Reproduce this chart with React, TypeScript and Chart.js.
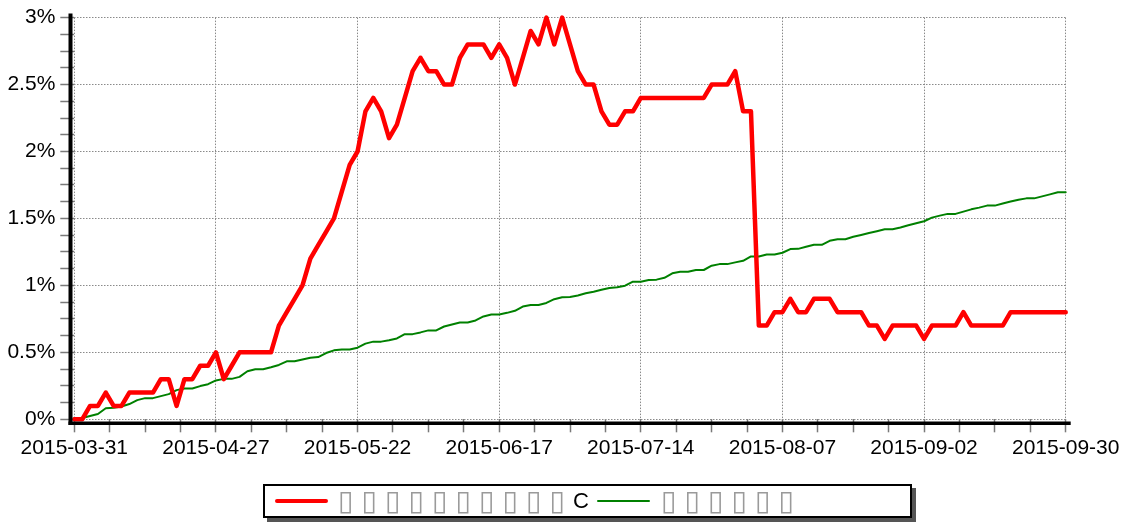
import React, { useEffect, useRef } from 'react';
import { Chart, registerables } from 'chart.js';

Chart.register(...registerables);

// Trading days, 2015-03-31 .. 2015-09-30
const dates: string[] = [
  '2015-03-31',
  '2015-04-01', '2015-04-02', '2015-04-03', '2015-04-07', '2015-04-08', '2015-04-09', '2015-04-10',
  '2015-04-13', '2015-04-14', '2015-04-15', '2015-04-16', '2015-04-17', '2015-04-20', '2015-04-21',
  '2015-04-22', '2015-04-23', '2015-04-24', '2015-04-27', '2015-04-28', '2015-04-29', '2015-04-30',
  '2015-05-04', '2015-05-05', '2015-05-06', '2015-05-07', '2015-05-08', '2015-05-11', '2015-05-12',
  '2015-05-13', '2015-05-14', '2015-05-15', '2015-05-18', '2015-05-19', '2015-05-20', '2015-05-21',
  '2015-05-22', '2015-05-25', '2015-05-26', '2015-05-27', '2015-05-28', '2015-05-29',
  '2015-06-01', '2015-06-02', '2015-06-03', '2015-06-04', '2015-06-05', '2015-06-08', '2015-06-09',
  '2015-06-10', '2015-06-11', '2015-06-12', '2015-06-15', '2015-06-16', '2015-06-17', '2015-06-18',
  '2015-06-19', '2015-06-23', '2015-06-24', '2015-06-25', '2015-06-26', '2015-06-29', '2015-06-30',
  '2015-07-01', '2015-07-02', '2015-07-03', '2015-07-06', '2015-07-07', '2015-07-08', '2015-07-09',
  '2015-07-10', '2015-07-13', '2015-07-14', '2015-07-15', '2015-07-16', '2015-07-17', '2015-07-20',
  '2015-07-21', '2015-07-22', '2015-07-23', '2015-07-24', '2015-07-27', '2015-07-28', '2015-07-29',
  '2015-07-30', '2015-07-31',
  '2015-08-03', '2015-08-04', '2015-08-05', '2015-08-06', '2015-08-07', '2015-08-10', '2015-08-11',
  '2015-08-12', '2015-08-13', '2015-08-14', '2015-08-17', '2015-08-18', '2015-08-19', '2015-08-20',
  '2015-08-21', '2015-08-24', '2015-08-25', '2015-08-26', '2015-08-27', '2015-08-28', '2015-08-31',
  '2015-09-01', '2015-09-02', '2015-09-07', '2015-09-08', '2015-09-09', '2015-09-10', '2015-09-11',
  '2015-09-14', '2015-09-15', '2015-09-16', '2015-09-17', '2015-09-18', '2015-09-21', '2015-09-22',
  '2015-09-23', '2015-09-24', '2015-09-25', '2015-09-28', '2015-09-29', '2015-09-30',
];

// Fund (class C) cumulative return, %
const fundReturn: number[] = [
  0, 0, 0.1, 0.1, 0.2, 0.1, 0.1, 0.2, 0.2, 0.2,
  0.2, 0.3, 0.3, 0.1, 0.3, 0.3, 0.4, 0.4, 0.5, 0.3,
  0.4, 0.5, 0.5, 0.5, 0.5, 0.5, 0.7, 0.8, 0.9, 1.0,
  1.2, 1.3, 1.4, 1.5, 1.7, 1.9, 2.0, 2.3, 2.4, 2.3,
  2.1, 2.2, 2.4, 2.6, 2.7, 2.6, 2.6, 2.5, 2.5, 2.7,
  2.8, 2.8, 2.8, 2.7, 2.8, 2.7, 2.5, 2.7, 2.9, 2.8,
  3.0, 2.8, 3.0, 2.8, 2.6, 2.5, 2.5, 2.3, 2.2, 2.2,
  2.3, 2.3, 2.4, 2.4, 2.4, 2.4, 2.4, 2.4, 2.4, 2.4,
  2.4, 2.5, 2.5, 2.5, 2.6, 2.3, 2.3, 0.7, 0.7, 0.8,
  0.8, 0.9, 0.8, 0.8, 0.9, 0.9, 0.9, 0.8, 0.8, 0.8,
  0.8, 0.7, 0.7, 0.6, 0.7, 0.7, 0.7, 0.7, 0.6, 0.7,
  0.7, 0.7, 0.7, 0.8, 0.7, 0.7, 0.7, 0.7, 0.7, 0.8,
  0.8, 0.8, 0.8, 0.8, 0.8, 0.8, 0.8,
];

// Benchmark cumulative return, %
const benchmarkReturn: number[] = [
  0.01, 0.01, 0.025, 0.04, 0.083, 0.086, 0.096, 0.114, 0.143, 0.158,
  0.158, 0.173, 0.188, 0.218, 0.23, 0.23, 0.248, 0.262, 0.29, 0.302,
  0.302, 0.317, 0.359, 0.374, 0.374, 0.389, 0.406, 0.433, 0.433, 0.446,
  0.46, 0.465, 0.495, 0.515, 0.522, 0.522, 0.535, 0.565, 0.58, 0.58,
  0.59, 0.604, 0.636, 0.636, 0.649, 0.664, 0.664, 0.693, 0.708, 0.723,
  0.723, 0.738, 0.768, 0.783, 0.783, 0.795, 0.81, 0.842, 0.854, 0.854,
  0.869, 0.897, 0.911, 0.914, 0.925, 0.941, 0.953, 0.968, 0.981, 0.986,
  0.998, 1.028, 1.028, 1.04, 1.043, 1.057, 1.09, 1.102, 1.102, 1.115,
  1.115, 1.147, 1.159, 1.159, 1.172, 1.184, 1.216, 1.216, 1.231, 1.231,
  1.244, 1.271, 1.273, 1.288, 1.303, 1.303, 1.333, 1.345, 1.345, 1.363,
  1.377, 1.392, 1.405, 1.419, 1.419, 1.432, 1.449, 1.464, 1.479, 1.506,
  1.521, 1.534, 1.534, 1.551, 1.568, 1.581, 1.596, 1.596, 1.611, 1.626,
  1.64, 1.65, 1.65, 1.665, 1.68, 1.695, 1.695,
];

// Legend labels as they appear (missing-glyph boxes)
const seriesLabels: string[] = ['▯▯▯▯▯▯▯▯▯▯C', '▯▯▯▯▯▯'];
const seriesColors: string[] = ['#ff0000', '#008000'];
const seriesWidths: number[] = [4.5, 2];

const xLabelEvery = 18;
const xMinorStep = 4.5;
const yMax = 3;
const yLabelEvery = 0.5;
const yMinorStep = 0.125;

const W = 1125;
const H = 523;
const PLOT_LEFT = 74.3;
const PLOT_RIGHT = 1065.7;
const PLOT_TOP = 15.7;
const PLOT_BOTTOM = 419.3;

const FONT = '"Liberation Sans", Arial, sans-serif';

const isMult = (v: number, m: number) => Math.abs(v / m - Math.round(v / m)) < 1e-6;

const axisLinesPlugin = {
  id: 'axisLines',
  afterDatasetsDraw(chart: any) {
    const { ctx, chartArea } = chart;
    ctx.save();
    ctx.strokeStyle = '#000';
    ctx.lineCap = 'butt';
    ctx.lineWidth = 4;
    ctx.beginPath();
    ctx.moveTo(chartArea.left - 3.8, chartArea.top - 4);
    ctx.lineTo(chartArea.left - 3.8, chartArea.bottom + 5.7);
    ctx.stroke();
    ctx.lineWidth = 3.6;
    ctx.beginPath();
    ctx.moveTo(chartArea.left - 5.8, chartArea.bottom + 4);
    ctx.lineTo(chartArea.right + 5, chartArea.bottom + 4);
    ctx.stroke();
    ctx.restore();
  },
};

function Legend() {
  return (
    <div
      style={{
        position: 'absolute',
        left: 263,
        top: 484,
        width: 649,
        height: 34,
        boxSizing: 'border-box',
        border: '2px solid #000',
        boxShadow: '4px 4px 0 #555',
        background: '#fff',
        display: 'flex',
        alignItems: 'center',
        fontFamily: FONT,
        fontSize: 22,
        whiteSpace: 'nowrap',
      }}
    >
      {seriesLabels.map((label, si) => (
        <React.Fragment key={si}>
          <span
            style={{
              display: 'inline-block',
              marginLeft: si === 0 ? 10 : 8,
              width: 53,
              height: seriesWidths[si],
              borderRadius: 2,
              background: seriesColors[si],
            }}
          />
          <span style={{ marginLeft: si === 0 ? 10 : 11, display: 'inline-flex', alignItems: 'center' }}>
            {Array.from(label).map((ch, ci) =>
              ch === '▯' ? (
                <span
                  key={ci}
                  style={{
                    display: 'inline-block',
                    width: 23.5,
                    color: '#9a9a9a',
                    fontFamily: '"DejaVu Sans", sans-serif',
                    fontSize: 28,
                    lineHeight: '28px',
                    textAlign: 'left',
                  }}
                >
                  {ch}
                </span>
              ) : (
                <span key={ci} style={{ color: '#000', lineHeight: '24px' }}>
                  {ch}
                </span>
              )
            )}
          </span>
        </React.Fragment>
      ))}
    </div>
  );
}

export default function App() {
  const canvasRef = useRef<HTMLCanvasElement | null>(null);

  useEffect(() => {
    document.body.style.margin = '0';
    const canvas = canvasRef.current;
    if (!canvas) return;
    const series = [fundReturn, benchmarkReturn];
    const chart = new Chart(canvas, {
      type: 'line',
      data: {
        datasets: series.map((vals, si) => ({
          label: seriesLabels[si],
          data: vals.map((v, i) => ({ x: i, y: v })),
          borderColor: seriesColors[si],
          backgroundColor: seriesColors[si],
          borderWidth: seriesWidths[si],
          pointRadius: 0,
          tension: 0,
          borderJoinStyle: 'round',
          borderCapStyle: 'round',
          clip: 8,
        })),
      },
      options: {
        responsive: false,
        animation: false,
        devicePixelRatio: 1,
        layout: { padding: { left: 0, right: W - PLOT_RIGHT, top: PLOT_TOP, bottom: 0 } },
        plugins: {
          legend: { display: false },
          tooltip: { enabled: false },
        },
        scales: {
          x: {
            type: 'linear',
            min: 0,
            max: dates.length - 1,
            afterFit(scale: any) {
              scale.height = H - PLOT_BOTTOM;
            },
            border: { display: false, dash: [1.5, 1.5] },
            grid: {
              color: (ctx: any) => (ctx.tick && isMult(ctx.tick.value, xLabelEvery) ? '#8a8a8a' : 'rgba(0,0,0,0)'),
              lineWidth: 1,
              tickColor: '#7a7a7a',
              tickLength: 13,
              tickWidth: 1.5,
            },
            ticks: {
              stepSize: xMinorStep,
              autoSkip: false,
              maxRotation: 0,
              minRotation: 0,
              padding: 3,
              color: '#000',
              font: { family: FONT, size: 21 },
              callback: (value: any) => {
                const v = Number(value);
                return isMult(v, xLabelEvery) ? dates[Math.round(v)] : '';
              },
            },
          },
          y: {
            type: 'linear',
            min: 0,
            max: yMax,
            afterFit(scale: any) {
              scale.width = PLOT_LEFT;
            },
            border: { display: false, dash: [1.5, 1.5] },
            grid: {
              color: (ctx: any) => (ctx.tick && isMult(ctx.tick.value, yLabelEvery) ? '#8a8a8a' : 'rgba(0,0,0,0)'),
              lineWidth: 1,
              tickColor: '#7a7a7a',
              tickLength: 14,
              tickWidth: 1.5,
            },
            ticks: {
              stepSize: yMinorStep,
              autoSkip: false,
              padding: 5,
              color: '#000',
              font: { family: FONT, size: 21 },
              callback: (value: any) => {
                const v = Number(value);
                return isMult(v, yLabelEvery) ? `${parseFloat(v.toFixed(2))}%` : '';
              },
            },
          },
        },
      },
      plugins: [axisLinesPlugin],
    } as any);
    return () => chart.destroy();
  }, []);

  return (
    <div style={{ position: 'absolute', left: 0, top: 0, width: W, height: H, background: '#fff' }}>
      <canvas ref={canvasRef} width={W} height={H} style={{ display: 'block', width: W, height: H }} />
      <Legend />
    </div>
  );
}
